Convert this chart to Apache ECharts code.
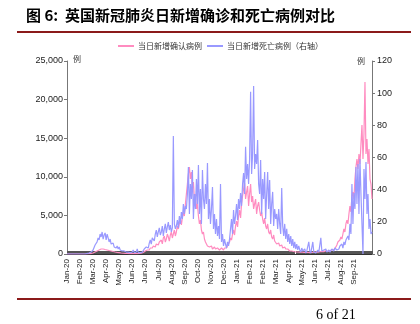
<!DOCTYPE html>
<html><head><meta charset="utf-8">
<script src="https://cdn.jsdelivr.net/npm/echarts@6/dist/echarts.min.js"></script>
<style>html,body{margin:0;padding:0;background:#fff}#c{width:420px;height:324px}</style>
</head><body><div id="c"></div>
<script>
const titleText = '图 6:  英国新冠肺炎日新增确诊和死亡病例对比';
const seriesNames = ['当日新增确认病例', '当日新增死亡病例（右轴）'];
const tickLabels = ['Jan-20','Feb-20','Mar-20','Apr-20','May-20','Jun-20','Jun-20','Jul-20','Aug-20','Sep-20','Oct-20','Nov-20','Dec-20','Jan-21','Feb-21','Feb-21','Mar-21','Apr-21','May-21','Jun-21','Jul-21','Aug-21','Sep-21'];
const labelStep = 13;
const leftTicks = [0, 5000, 10000, 15000, 20000, 25000];
const rightTicks = [0, 20, 40, 60, 80, 100, 120];

const confirmed = [
0,0,0,0,0,0,0,0,0,0,0,0,0,0,0,0,
0,0,0,10,15,25,40,40,60,100,130,200,260,
320,390,450,520,580,650,670,650,620,580,560,520,490,450,410,
390,360,320,300,260,230,210,190,170,155,130,115,100,90,80,65,65,50,50,50,
50,45,50,60,55,70,60,80,75,90,100,120,
190,260,390,320,520,650,520,780,910,780,1040,1170,910,1300,1420,1170,1550,1680,
1810,1300,2070,2330,1550,1940,2590,2200,1680,2460,2850,2070,2590,3110,2330,
2850,3630,3240,3890,4530,3760,4660,5440,4920,6480,7770,
9070,10360,11270,9710,10620,8420,9320,
7120,7770,5830,6480,4920,3890,4400,3110,2590,2850,1940,1550,
1300,1040,1170,910,780,1040,650,780,910,650,520,780,650,520,650,780,650,520,780,910,780,1040,1170,
1550,2070,1810,2590,3110,2460,3630,4270,3500,4920,5700,4660,6480,7510,
8420,9190,7120,8030,8810,6220,7770,9060,6730,7510,5830,6480,7120,5180,6220,6730,
5700,4920,5440,4530,3890,4660,3630,3240,3890,2850,2590,3110,2200,1940,2460,1680,1550,
1300,1170,1420,1040,910,1170,780,650,910,650,520,650,520,390,520,390,390,320,390,260,320,260,260,
250,230,260,220,200,240,210,190,230,200,180,220,200,190,230,210,240,260,230,280,300,270,320,350,310,380,420,
260,320,390,450,390,520,650,580,780,910,
1170,1550,1300,1810,2200,1940,2590,3240,2850,3890,
4400,3890,5180,6220,5440,7510,8030,7120,9710,11270,
12300,11010,12950,11660,14250,16710,12300,15540,22270,12950,14890,11660,13600,9710,9060,7120
];

const deaths = [
0,0,0,0,0,0,0,0,0,0,0,0,0,0,0,0,
0,0,0,0.3,0.3,0.6,0.6,0.9,1.2,1.9,2.5,3.7,5.6,
6.2,7.5,10,8.7,12.4,10.6,13.7,9.3,11.8,13.1,8.7,12.4,10,7.5,9.3,
6.2,5,6.8,4.4,5.6,3.7,5,3.1,4.4,2.5,3.7,1.9,3.1,1.9,2.5,1.2,1.9,1.2,1.9,0.9,
0.6,1.2,2.5,0.9,0.6,1.2,3.1,0.9,1.2,0.9,1.6,1.2,
1.9,3.1,2.5,4.4,5.6,3.7,6.8,8.7,6.2,10,11.2,8.1,12.4,14.9,10.6,13.7,16.2,11.8,
13.7,17.4,11.2,15.6,18.7,13.1,16.8,19.9,14.9,18,13.7,16.2,73.4,18.7,15.6,
17.4,21.1,16.2,23.6,18.7,26.1,21.8,31.1,24.9,29.9,28,
37.3,54.1,24.9,43.5,34.2,52.2,21.8,
37.3,28,46.6,31.1,55.4,24.9,40.4,18.7,52.2,34.2,28,43.5,
31.1,56.6,21.8,34.2,18.7,28,41.7,15.6,24.9,12.4,21.8,11.2,17.4,9.3,43.5,7.5,12.4,5,9.3,6.2,3.7,7.5,5,
9.3,15.6,21.8,12.4,27.4,18.7,23.6,31.1,21.1,34.2,28,37.9,29.9,43.5,
50.4,37.3,66.6,46.6,56,43.5,59.1,100.8,49.8,62.2,104.5,52.9,62.2,56,70.9,43.5,
37.3,58.5,24.9,46.6,34.2,51,21.8,37.3,51,28,46,18.7,31.1,38.6,17.4,28,21.8,
24.9,15.6,28,18.7,12.4,41,17.4,11.2,18.7,9.3,15.6,7.5,12.4,6.2,11.2,5,9.3,3.7,7.5,3.1,6.2,2.5,5,
2.5,1.2,3.7,1.9,1.2,3.1,0.6,1.9,1.2,7.5,1.9,0.6,1.2,7.5,1.2,1.9,0.6,1.2,2.5,1.2,0.6,10,1.9,1.2,2.5,1.9,3.1,
1.2,1.9,2.5,1.2,1.9,3.1,2.5,1.9,3.7,3.1,
2.5,3.7,3.1,5,4.4,6.2,3.7,7.5,5.6,8.7,
7.5,11.2,8.7,18.7,12.4,43.5,18.7,37.9,28,54.1,
31.1,56,24.9,59.1,37.3,18.7,0,52.9,34.2,57.2,24.9,37.3,15.6,21.8,12.4,13.7
];

const categories = confirmed.map((_, i) => String(i));
const chart = echarts.init(document.getElementById('c'), null, {renderer: 'canvas'});
const axisFont = 'Liberation Sans, Arial, sans-serif';
chart.setOption({
  animation: false,
  backgroundColor: '#fff',
  graphic: [
    {type: 'text', left: 26, top: 8, style: {text: titleText, font: 'bold 15px "Noto Sans CJK SC", sans-serif', fill: '#000'}},
    {type: 'rect', shape: {x: 17, y: 31, width: 394, height: 2}, style: {fill: '#8b1a1a'}},
    {type: 'rect', shape: {x: 17, y: 298, width: 394, height: 2}, style: {fill: '#8b1a1a'}},
    {type: 'text', left: 316, top: 308, style: {text: '6 of 21', font: '14px "Liberation Serif", serif', fill: '#000'}},
    {type: 'text', left: 73, top: 55, style: {text: '例', font: '8px "Noto Sans CJK SC", sans-serif', fill: '#333'}},
    {type: 'text', left: 357, top: 57, style: {text: '例', font: '8px "Noto Sans CJK SC", sans-serif', fill: '#333'}}
  ],
  legend: {
    top: 37, left: 113, itemWidth: 16, itemHeight: 2, itemGap: 5,
    icon: 'rect',
    textStyle: {fontSize: 8, color: '#333', fontFamily: '"Noto Sans CJK SC", sans-serif', padding: [0, 0, 0, -1]},
    data: seriesNames
  },
  grid: {left: 67, right: 48, top: 61, bottom: 70},
  xAxis: {
    type: 'category', data: categories, boundaryGap: false,
    axisLine: {lineStyle: {color: '#333', width: 1}},
    axisTick: {show: true, interval: 0, length: 3, inside: true, lineStyle: {color: '#555'}},
    axisLabel: {
      interval: labelStep - 1, rotate: 90, fontSize: 8, color: '#222', fontFamily: axisFont, margin: 5,
      formatter: (v, i) => tickLabels[Math.round(i / labelStep)] || ''
    },
    splitLine: {show: false}
  },
  yAxis: [
    {type: 'value', min: leftTicks[0], max: leftTicks[leftTicks.length - 1], interval: 5000, position: 'left',
     axisLine: {show: true, lineStyle: {color: '#777'}},
     axisTick: {show: true, length: 3, lineStyle: {color: '#777'}},
     axisLabel: {fontSize: 9, color: '#222', fontFamily: axisFont, margin: 4,
       formatter: v => v.toLocaleString('en-US')},
     splitLine: {show: false}},
    {type: 'value', min: rightTicks[0], max: rightTicks[rightTicks.length - 1], interval: 20, position: 'right',
     axisLine: {show: true, lineStyle: {color: '#777'}},
     axisTick: {show: true, length: 3, lineStyle: {color: '#777'}},
     axisLabel: {fontSize: 9, color: '#222', fontFamily: axisFont, margin: 5},
     splitLine: {show: false}}
  ],
  series: [
    {name: seriesNames[0], type: 'line', data: confirmed, yAxisIndex: 0, showSymbol: false,
     lineStyle: {color: '#ff8cc0', width: 1.2}, itemStyle: {color: '#ff8cc0'}, z: 2},
    {name: seriesNames[1], type: 'line', data: deaths, yAxisIndex: 1, showSymbol: false,
     lineStyle: {color: '#9999ff', width: 1.2}, itemStyle: {color: '#9999ff'}, z: 3}
  ]
});
</script></body></html>
